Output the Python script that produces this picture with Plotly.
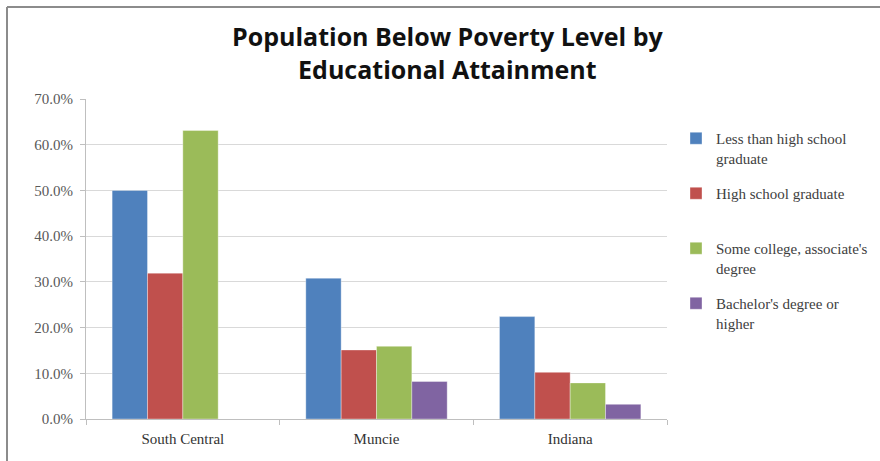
import plotly.graph_objects as go

# Poverty rate (%) by educational attainment
regions = ["South Central", "Muncie", "Indiana"]
less_than_hs = [50.0, 30.8, 22.4]
hs_graduate = [31.9, 15.1, 10.2]
some_college = [63.1, 15.9, 7.9]
bachelors_plus = [None, 8.2, 3.2]

series_names = [
    "Less than high school<br>graduate",
    "High school graduate<br> ",
    "Some college, associate's<br>degree",
    "Bachelor's degree or<br>higher",
]
series_values = [less_than_hs, hs_graduate, some_college, bachelors_plus]
series_colors = ["#4F81BD", "#C0504D", "#9BBB59", "#8064A2"]

title_text = "<b>Population Below Poverty Level by<br>Educational Attainment</b>"

fig = go.Figure()
for name, vals, col in zip(series_names, series_values, series_colors):
    fig.add_trace(go.Bar(
        x=regions, y=vals, name=name, legendgroup=name,
        marker=dict(color=col, line=dict(color="rgba(255,255,255,0.35)", width=1)),
    ))

W, H = 880, 461
ml, mr, mt, mb = 86, 213, 99, 42
pw, ph = W - ml - mr, H - mt - mb

def px_x(x):
    return (x - ml) / pw

def px_y(y):
    return 1 - (y - mt) / ph

fig.update_layout(
    width=W, height=H,
    margin=dict(l=ml, r=mr, t=mt, b=mb, autoexpand=False),
    paper_bgcolor="white", plot_bgcolor="white",
    barmode="group", bargap=0.27, bargroupgap=0,
    font=dict(family="Liberation Serif", color="#404040"),
    xaxis=dict(
        showline=True, linecolor="#BFBFBF", linewidth=1,
        ticks="outside", tickson="boundaries", ticklen=5, tickcolor="#BFBFBF",
        tickfont=dict(size=15, color="#333333"),
        ticklabelstandoff=6,
        showgrid=False,
    ),
    yaxis=dict(
        range=[0, 70], dtick=10, tickformat=".1f", ticksuffix="%",
        showline=True, linecolor="#BFBFBF", linewidth=1,
        ticks="outside", ticklen=5, tickcolor="#BFBFBF",
        showgrid=True, gridcolor="#D9D9D9", gridwidth=1,
        tickfont=dict(size=15, color="#595959"),
        ticklabelstandoff=4,
        zeroline=False,
    ),
    legend=dict(
        x=px_x(676), y=px_y(122), xanchor="left", yanchor="top",
        valign="top", tracegroupgap=13, itemwidth=30,
        font=dict(family="Liberation Serif", size=15, color="#404040"),
        bgcolor="rgba(0,0,0,0)",
    ),
    annotations=[
        dict(text=title_text, xref="paper", yref="paper",
             x=px_x(448), y=px_y(17), xanchor="center", yanchor="top",
             showarrow=False, align="center",
             font=dict(family="Open Sans", size=25, color="#111111")),
    ],
    shapes=[
        dict(type="line", xref="paper", yref="paper",
             x0=px_x(7), x1=px_x(920), y0=px_y(7), y1=px_y(7),
             line=dict(color="#8C8C8C", width=2)),
        dict(type="line", xref="paper", yref="paper",
             x0=px_x(7), x1=px_x(7), y0=px_y(7), y1=px_y(470),
             line=dict(color="#8C8C8C", width=2)),
    ],
)

fig.write_html("out.html")
